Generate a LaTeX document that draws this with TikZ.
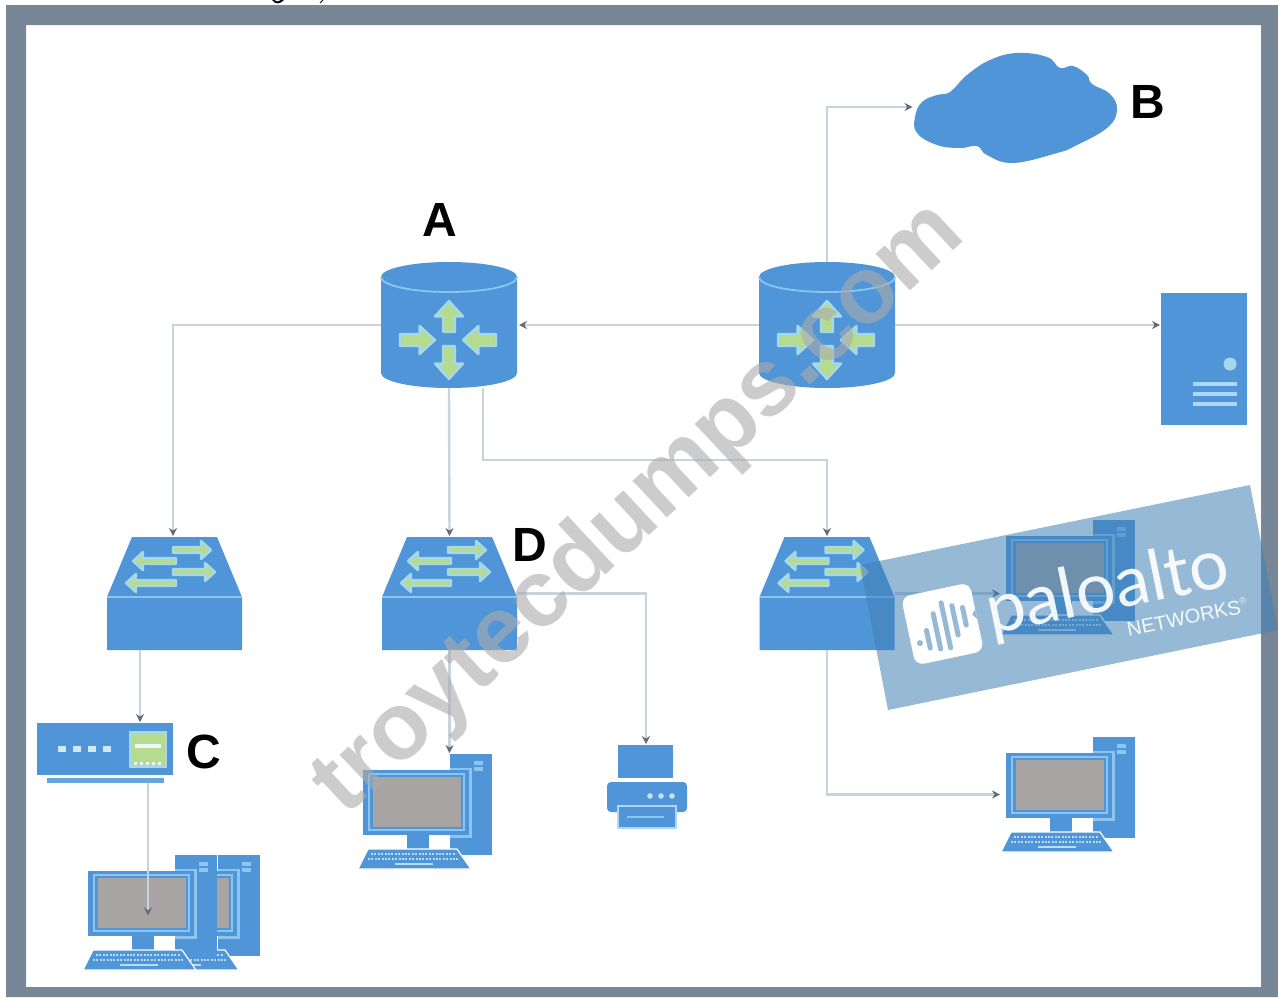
\documentclass[tikz,border=0pt]{standalone}
\usepackage{fontspec}
\usetikzlibrary{arrows.meta,calc}
\newfontfamily\labfont{Liberation Sans}
\newfontfamily\logofont{Lato}
\definecolor{devblue}{HTML}{4F95D7}
\definecolor{devlight}{HTML}{8CC6F0}
\definecolor{arrowcore}{HTML}{B4DB8E}
\definecolor{arrowedge}{HTML}{A5D8EA}
\definecolor{linec}{HTML}{C9D3DE}
\definecolor{tipc}{HTML}{626C78}
\definecolor{framec}{HTML}{788797}
\definecolor{screenc}{HTML}{A8A4A4}
\definecolor{bannerc}{HTML}{4080B6}
\definecolor{bannerw}{HTML}{96B9D7}
\newcommand{\BA}[6]{%
  \begin{scope}[shift={(#1,#2)},rotate=#3]
    \draw[draw=arrowedge,fill=arrowcore,line width=2.4pt,line join=round]
      (0,{-#6/2}) -- ({#4-#5*.55},{-#6/2}) -- ({#4-#5*.55},{-#5/2}) -- (#4,0)
      -- ({#4-#5*.55},{#5/2}) -- ({#4-#5*.55},{#6/2}) -- (0,{#6/2}) -- cycle;
  \end{scope}}
\tikzset{
  hitbox/.style={shape=rectangle,inner sep=0pt,outer sep=0pt,draw=none},
  conn/.style={draw=linec,line width=2.4pt,-{Stealth[length=8pt,width=8pt,color=tipc]},shorten >=1pt},
  letter/.style={font=\labfont\bfseries\fontsize{48}{48}\selectfont,text=black,inner sep=0pt},
  router/.pic={
    \fill[devblue] (-68,-48) .. controls (-68,-56.3) and (-37.6,-63) .. (0,-63)
      .. controls (37.6,-63) and (68,-56.3) .. (68,-48) -- (68,48)
      .. controls (68,56.3) and (37.6,63) .. (0,63)
      .. controls (-37.6,63) and (-68,56.3) .. (-68,48) -- cycle;
    \draw[devlight,line width=1.8pt] (-68,-48) .. controls (-68,-39.7) and (-37.6,-33) .. (0,-33)
      .. controls (37.6,-33) and (68,-39.7) .. (68,-48);
    \BA{0}{7}{90}{31}{28}{12}
    \BA{0}{21}{-90}{33}{28}{12}
    \BA{-49}{15}{0}{35}{28}{12}
    \BA{47}{15}{180}{33}{28}{12}
  },
  switchbox/.pic={
    \fill[devblue] (-42.5,-56.5) -- (42.5,-56.5) -- (67.5,3.5) -- (67.5,56.5) -- (-67.5,56.5) -- (-67.5,3.5) -- cycle;
    \draw[devlight,line width=1.6pt] (-67.5,3.5) -- (67.5,3.5);
    \BA{-1.5}{-43.5}{0}{38}{18}{6}
    \BA{1.5}{-32.5}{180}{43}{18}{6}
    \BA{-1.5}{-21.5}{0}{42}{18}{6}
    \BA{1.5}{-10.5}{180}{50}{18}{6}
  },
  hubbox/.pic={
    \begin{scope}[shift={(-105,-753)}]
      \fill[devblue] (37,723) rectangle (173,775);
      \fill[devblue!85!white] (47,778) rectangle (164,783);
      \foreach \dx in {62,77,92,107} \fill[devlight!40!white] (\dx-4,746) rectangle (\dx+4,752);
      \draw[draw=arrowedge,fill=arrowcore,line width=1.5pt] (130,732) rectangle (166,767);
      \draw[draw=white!80!arrowedge,line width=4pt] (135,746) -- (161,746);
      \draw[draw=white!80!arrowedge,line width=3pt,dash pattern=on 3pt off 3pt] (134,763) -- (163,763);
    \end{scope}
  },
  pcbox/.pic={
    \begin{scope}[shift={(-1068,-794.5)}]
      \fill[devblue] (1093,737) rectangle (1135,838);
      \fill[devlight] (1117,744) rectangle (1126,748);
      \fill[devlight] (1117,750) rectangle (1126,754);
      \fill[devlight] (1093,751) rectangle (1115,821);
      \fill[devblue] (1006,753) rectangle (1112,818);
      \draw[draw=devlight,fill=devblue,line width=1.3pt] (1012,757) rectangle (1107,813);
      \fill[screenc] (1015.5,760) rectangle (1103.5,810);
      \fill[white] (1003,821) rectangle (1093,832);
      \fill[devblue] (1050,818) rectangle (1072,832);
      \draw[draw=white,fill=devblue,line width=1.2pt] (1011,832) -- (1100,832) -- (1114,852) -- (1001,852) -- cycle;
      \draw[devlight!60!white,line width=2pt,dash pattern=on 2pt off 1.4pt] (1014,836.5) -- (1098,836.5);
      \draw[devlight!60!white,line width=2pt,dash pattern=on 2pt off 1.4pt] (1011,841.5) -- (1102,841.5);
      \draw[devlight!60!white,line width=2pt] (1038,846.5) -- (1076,846.5);
    \end{scope}
  },
  serverbox/.pic={
    \fill[devblue] (-43,-66) rectangle (43,66);
    \fill[arrowedge] (26,5) circle[radius=6.5pt];
    \foreach \yy in {25,35,45} \draw[devlight!70!white,line width=3.6pt] (-11,\yy) -- (33,\yy);
  },
  printerbox/.pic={
    \begin{scope}[shift={(-646,-786.5)}]
      \fill[devblue] (618,745) rectangle (673,778);
      \fill[devblue,rounded corners=4pt] (607,782) rectangle (687,812);
      \foreach \dx in {650,661,672} \fill[devlight!50!white] (\dx,796) circle[radius=2.8pt];
      \draw[draw=devlight!70!white,fill=devblue,line width=1.2pt] (618,806) rectangle (676,828);
      \draw[devlight,line width=2.4pt] (627,817) -- (664,817);
    \end{scope}
  },
  cloudbox/.pic={
    \begin{scope}[shift={(-1015,-107)}]
      \fill[devblue] plot[smooth cycle,tension=.7] coordinates {(915,117) (922,102) (937,95) (950,92) (967,75) (990,60) (1017,53) (1047,57) (1060,68) (1073,66) (1087,75) (1092,84) (1110,94) (1117,110) (1107,128) (1075,146) (1057,153) (1013,163) (987,155) (977,146) (960,148) (937,145) (917,133)};
    \end{scope}
  },
}
\begin{document}
\begin{tikzpicture}[x=1pt,y=-1pt]
\useasboundingbox (0,0) rectangle (1278,997);
\fill[white] (0,0) rectangle (1278,997);
\fill[framec,even odd rule] (6,5) rectangle (1278,997) (26,25) rectangle (1261,987);
\fill[black] (272,0) .. controls (275,4.5) and (280,4.5) .. (284,0) -- (281,0) .. controls (279,2) and (276,2) .. (274,0) -- cycle;
\draw[black,line width=1pt] (323,0) -- (320,3);
% devices
\node[hitbox,minimum width=136pt,minimum height=126pt] (r1) at (449,325) {};
\pic at (r1.center) {router};
\node[hitbox,minimum width=136pt,minimum height=126pt] (r2) at (827,325) {};
\pic at (r2.center) {router};
\node[hitbox,minimum width=203pt,minimum height=111pt] (cloud) at (1015,107) {};
\pic at (cloud.center) {cloudbox};
\node[hitbox,minimum width=86pt,minimum height=132pt] (srv) at (1204,359) {};
\pic at (srv.center) {serverbox};
\node[hitbox,minimum width=135pt,minimum height=113pt] (s1) at (174.5,593.5) {};
\pic at (s1.center) {switchbox};
\node[hitbox,minimum width=135pt,minimum height=113pt] (s2) at (449.5,593.5) {};
\pic at (s2.center) {switchbox};
\node[hitbox,minimum width=135pt,minimum height=113pt] (s3) at (827,593.5) {};
\pic at (s3.center) {switchbox};
\node[hitbox,minimum width=136pt,minimum height=60pt] (hub) at (105,753) {};
\pic at (hub.center) {hubbox};
\node[hitbox,minimum width=80pt,minimum height=83pt] (prn) at (646,786.5) {};
\pic at (prn.center) {printerbox};
\pic at (193,912.5) {pcbox};
\node[hitbox,minimum width=134pt,minimum height=115pt] (pc1) at (150,912.5) {};
\pic at (pc1.center) {pcbox};
\node[hitbox,minimum width=134pt,minimum height=115pt] (pc2) at (425,811.5) {};
\pic at (pc2.center) {pcbox};
\node[hitbox,minimum width=134pt,minimum height=115pt] (pc3) at (1068,794.5) {};
\pic at (pc3.center) {pcbox};
\node[hitbox,minimum width=134pt,minimum height=115pt] (pc4) at (1068,577.5) {};
\pic at (pc4.center) {pcbox};
% connectors
\draw[conn] (r2.west) -- ([xshift=1pt]r1.east);
\draw[conn] (r1.west) -| ([xshift=-1.5pt]s1.north);
\draw[conn] (r1.south) -- (s2.north);
\coordinate (r1out) at ([xshift=34pt]r1.south);
\draw[conn] (r1out) -- ++(0,72) -| (s3.north);
\draw[conn] (r2.north) |- (cloud.west);
\draw[conn] (r2.east) -- (r2.east -| srv.west);
\coordinate (s1out) at ([xshift=-34.5pt]s1.south);
\draw[conn] (s1out) -- (s1out |- hub.north);
\coordinate (hubout) at ([xshift=43pt]hub.south);
\coordinate (pc1in) at ([yshift=-4pt]pc1.center);
\draw[conn] (hubout) -- (hubout |- pc1in);
\draw[conn] (s2.south) -- (s2.south |- pc2.north);
\draw[conn] (s2.east) -| (prn.north);
\draw[conn] (s3.south) |- (pc3.west);
\draw[conn] (s3.east) -- (s3.east -| pc4.west);
% labels
\node[letter] (la) at (440,220) {A};
\node[letter] (lb) at (1148,102) {B};
\node[letter] (lc) at (204,752) {C};
\node[letter] (ld) at (530,545) {D};
% watermark text
\node[inner sep=0pt,rotate=43,text=black!33,opacity=.6,font=\labfont\bfseries\fontsize{95}{95}\selectfont] (wm) at (640,510) {troytecdumps.com};
% banner
\fill[bannerc,opacity=.55] (860,565) -- (1250,485) -- (1278,630) -- (888,710) -- cycle;
\begin{scope}[shift={(942.5,624)},rotate=12]
  \fill[white,rounded corners=9pt] (-35,-35) rectangle (35,35);
  \fill[bannerw] (-26,14) circle[radius=3pt];
  \foreach \bx/\by/\bh in {-17/12/9,-7/6/18,3/2/23,13/-1/15,23/-3/9}
    \draw[bannerw,line width=5pt,line cap=round] (\bx,\by-\bh) -- (\bx,\by+\bh);
  \fill[bannerw] (35,-8) -- (31,-3) -- (35,2) -- cycle;
\end{scope}
\node[anchor=base,inner sep=0pt,rotate=11.6,text=white,opacity=.92,font=\logofont\fontsize{70}{70}\selectfont] (pa) at (1112,610) {paloalto};
\node[inner sep=0pt,rotate=11.6,text=white,opacity=.92,font=\labfont\fontsize{20}{20}\selectfont] (nw) at (1187,617) {NETWORKS\raisebox{.45em}{\fontsize{9}{9}\selectfont ®}};
\end{tikzpicture}
\end{document}
